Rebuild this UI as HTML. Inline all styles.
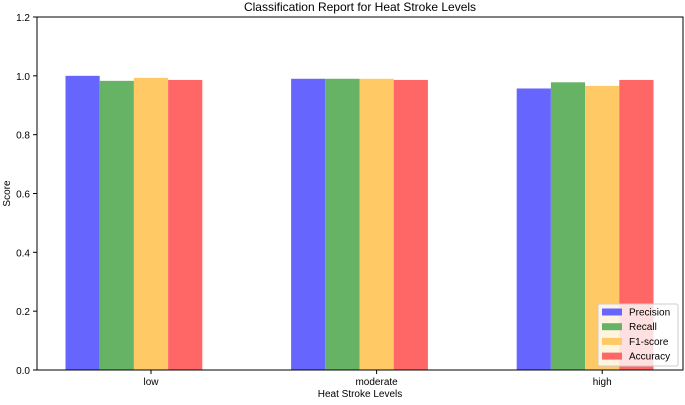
<!DOCTYPE html>
<html><head><meta charset="utf-8"><style>
body{margin:0;background:#fff;}
text{font-family:"Liberation Sans","DejaVu Sans",sans-serif;}
</style></head><body>
<svg id="chart" width="685" height="400" xmlns="http://www.w3.org/2000/svg"></svg>
<script>
const categories=["low","moderate","high"];
const seriesNames=["Precision","Recall","F1-score","Accuracy"];
const precision=[1.0,0.99,0.957];
const recall=[0.983,0.99,0.978];
const f1=[0.993,0.99,0.966];
const accuracy=[0.986,0.986,0.986];
const yTicks=[0.0,0.2,0.4,0.6,0.8,1.0,1.2];

const colors=["#6666ff","#66b366","#ffc966","#ff6666"];
const series=[precision,recall,f1,accuracy];
const L=37,R=683,T=17,B=370;
const y=v=>B-(v/1.2)*(B-T);
const gx=i=>151+i*225.6;
const bw=34.2;
const svg=document.getElementById('chart');
const NS="http://www.w3.org/2000/svg";
function mk(tag,attrs,parent){const e=document.createElementNS(NS,tag);for(const k in attrs)e.setAttribute(k,attrs[k]);(parent||svg).appendChild(e);return e;}

series.forEach((vals,s)=>{
  vals.forEach((v,i)=>{
    const r=mk('rect',{x:gx(i)+(s-2.5)*bw,y:y(v),width:bw,height:B-y(v),fill:colors[s]});
    
    
  });
});
const frame=mk('rect',{x:L,y:T,width:R-L,height:B-T,fill:'none',stroke:'#000','stroke-width':1});


yTicks.forEach(t=>{
  mk('line',{x1:L-4,x2:L,y1:y(t),y2:y(t),stroke:'#000'});
  const tx=mk('text',{x:L-7,y:y(t)+4,'font-size':10,'text-anchor':'end'});
  tx.textContent=t.toFixed(1);
  
  
});
categories.forEach((c,i)=>{
  mk('line',{x1:gx(i),x2:gx(i),y1:B,y2:B+4,stroke:'#000'});
  const tx=mk('text',{x:gx(i),y:B+15,'font-size':10,'text-anchor':'middle'});
  tx.textContent=c;
  
  
});
const title=mk('text',{x:(L+R)/2,y:11,'font-size':12,'text-anchor':'middle'});
title.textContent="Classification Report for Heat Stroke Levels";


const xt=mk('text',{x:(L+R)/2,y:397,'font-size':10,'text-anchor':'middle'});
xt.textContent="Heat Stroke Levels";


const yt=mk('text',{x:10,y:(T+B)/2,'font-size':10,'text-anchor':'middle',transform:'rotate(-90 10 '+(T+B)/2+')'});
yt.textContent="Score";


const lg=mk('g',{});


mk('rect',{x:598,y:304,width:80,height:62,rx:2,fill:'#fff','fill-opacity':0.8,stroke:'#ccc'},lg);
seriesNames.forEach((n,s)=>{
  const yy=312+s*14.7;
  mk('rect',{x:602,y:yy-3.5,width:20,height:7,fill:colors[s]},lg);
  const tx=mk('text',{x:629,y:yy+3.5,'font-size':10},lg);
  tx.textContent=n;
  
  
});
</script>
</body></html>
